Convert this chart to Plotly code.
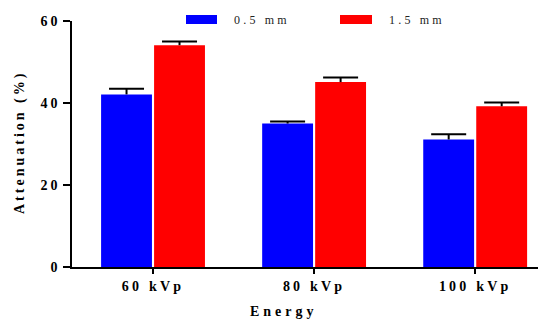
import plotly.graph_objects as go

categories = ["60 kVp", "80 kVp", "100 kVp"]
thin_vals = [42.1, 35.0, 31.1]
thin_err = [1.4, 0.5, 1.3]
thick_vals = [54.1, 45.1, 39.2]
thick_err = [0.9, 1.1, 0.9]
series_names = ["0.5 mm", "1.5 mm"]
y_ticks = [0, 20, 40, 60]

FONT = "Liberation Serif"
GAP = 0.342

def sp(t, ls=3):
    return f'<span style="letter-spacing:{ls}px">{t}</span>'

fig = go.Figure()
for vals, errs, name, col in [(thin_vals, thin_err, series_names[0], "#0000FF"),
                              (thick_vals, thick_err, series_names[1], "#FF0000")]:
    fig.add_trace(go.Bar(
        x=categories, y=vals, name=name, offsetgroup=name,
        marker=dict(color=col, line=dict(width=0)),
        error_y=dict(type="data", symmetric=False, array=errs, arrayminus=[0] * len(errs),
                     color="black", thickness=2, width=0),
    ))
for vals, errs, name in [(thin_vals, thin_err, series_names[0]),
                         (thick_vals, thick_err, series_names[1])]:
    fig.add_trace(go.Scatter(
        x=categories, y=[v + e for v, e in zip(vals, errs)], mode="markers",
        offsetgroup=name, showlegend=False, hoverinfo="skip",
        marker=dict(symbol="line-ew-open", size=25, color="black", line=dict(width=2, color="black")),
    ))

# custom legend
W = 466.0
H = 246.0
def px(x):
    return (x - 72) / W
def py(y):
    return (267 - y) / H

fig.add_shape(type="rect", xref="paper", yref="paper", x0=px(186), x1=px(217), y0=py(24), y1=py(15),
              fillcolor="#0000FF", line=dict(width=0))
fig.add_shape(type="rect", xref="paper", yref="paper", x0=px(340), x1=px(372), y0=py(24), y1=py(15),
              fillcolor="#FF0000", line=dict(width=0))
fig.add_annotation(xref="paper", yref="paper", x=px(232), y=py(20), xanchor="left", yanchor="middle",
                   text=sp(series_names[0], 3.2), showarrow=False, font=dict(family=FONT, size=12, color="#222"))
fig.add_annotation(xref="paper", yref="paper", x=px(387), y=py(20), xanchor="left", yanchor="middle",
                   text=sp(series_names[1], 3.2), showarrow=False, font=dict(family=FONT, size=12, color="#222"))

# axis titles
fig.add_annotation(xref="paper", yref="paper", x=px(20), y=py(143), xanchor="center", yanchor="middle",
                   textangle=-90, text="<b>" + sp("Attenuation (%)", 3) + "</b>", showarrow=False,
                   font=dict(family=FONT, size=14, color="black"))
fig.add_annotation(xref="paper", yref="paper", x=px(284), y=py(311), xanchor="center", yanchor="middle",
                   text="<b>" + sp("Energy", 4) + "</b>", showarrow=False,
                   font=dict(family=FONT, size=14, color="black"))

fig.update_layout(
    width=538, height=320,
    margin=dict(l=72, r=0, t=21, b=53),
    plot_bgcolor="white", paper_bgcolor="white",
    showlegend=False,
    barmode="group", bargap=GAP, bargroupgap=0.04,
    scattermode="group", scattergap=GAP,
    font=dict(family=FONT, color="black"),
)
fig.update_xaxes(
    range=[-0.503, 2.39], showline=True, linecolor="black", linewidth=1.5,
    ticks="outside", ticklen=5, tickwidth=1.5, tickcolor="black",
    tickvals=categories, ticktext=["<b>" + sp(c, 3.2) + "</b>" for c in categories],
    tickfont=dict(family=FONT, size=14, color="black"), showgrid=False, zeroline=False,
)
fig.update_yaxes(
    range=[0, 60], tickvals=y_ticks, ticktext=["<b>" + sp(str(v), 3) + "</b>" for v in y_ticks],
    showline=True, linecolor="black", linewidth=1.5,
    ticks="outside", ticklen=7, tickwidth=1.5, tickcolor="black",
    tickfont=dict(family=FONT, size=14, color="black"), showgrid=False, zeroline=False,
)

fig.write_html("out.html", config={"displayModeBar": False},
               post_script="document.body.style.margin='0';")
